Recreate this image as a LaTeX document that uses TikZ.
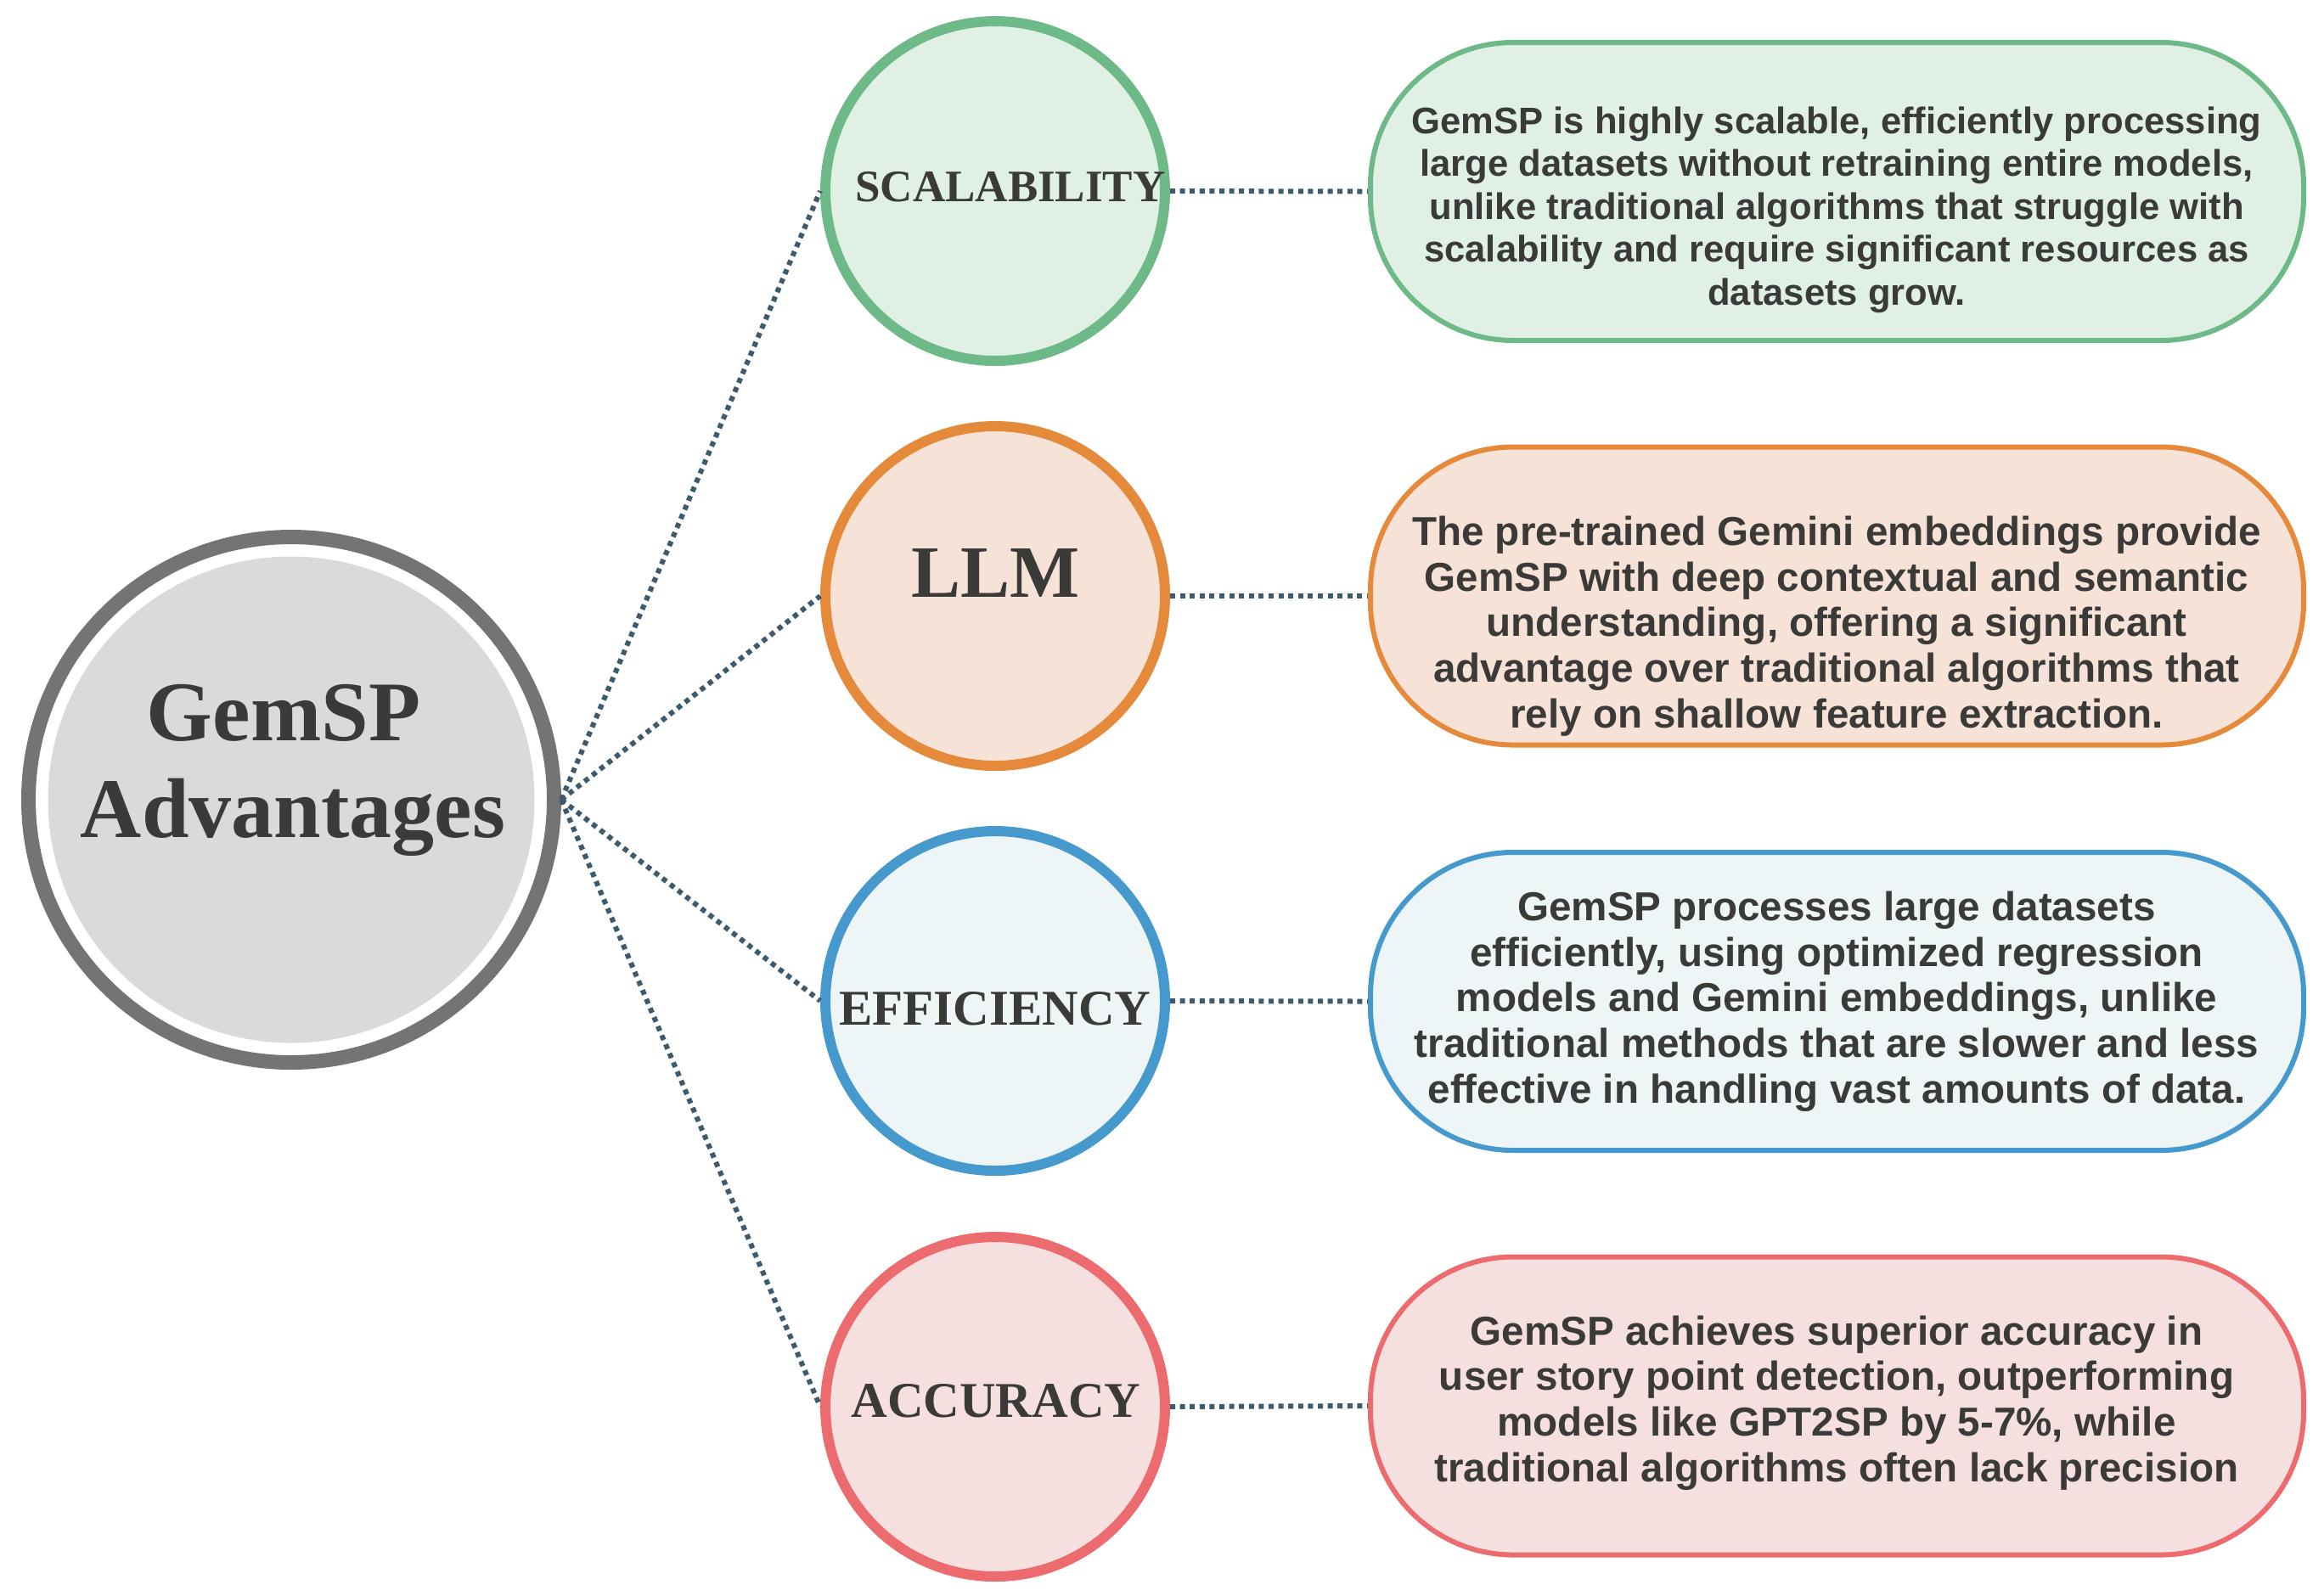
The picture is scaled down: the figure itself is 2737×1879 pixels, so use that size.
\documentclass[tikz,border=0pt]{standalone}
\usepackage{fontspec}
\setmainfont{Liberation Serif}
\newfontfamily\pillfont{Liberation Sans}
\definecolor{ringc}{HTML}{747474}
\definecolor{hubfill}{HTML}{D9DADC}
\definecolor{txtc}{HTML}{3A3A38}
\definecolor{connc}{HTML}{3E5B6E}
\definecolor{gline}{HTML}{6DBA88}
\definecolor{gfill}{HTML}{E0F0E4}
\definecolor{oline}{HTML}{E58A3B}
\definecolor{ofill}{HTML}{F7E2D8}
\definecolor{bline}{HTML}{4599CD}
\definecolor{bfill}{HTML}{EDF5F7}
\definecolor{rline}{HTML}{EC6B6E}
\definecolor{rfill}{HTML}{F6DFDF}
\begin{document}
\begin{tikzpicture}[x=0.25pt,y=-0.25pt,
  conn/.style={draw=connc, line width=1.5pt, dash pattern=on 1.5pt off 1.4pt},
  smallcirc/.style={circle, line width=3pt, minimum size=100pt, inner sep=0pt},
  pill/.style={rectangle, rounded corners=42pt, line width=1.5pt, minimum width=274.75pt, minimum height=87.75pt, inner sep=0pt},
  lbl/.style={text=txtc, inner sep=0pt, anchor=base},
  bodyA/.style={text=txtc, inner sep=0pt, anchor=base, align=center, font=\pillfont\bfseries\fontsize{10.9pt}{12.6pt}\selectfont},
  bodyB/.style={text=txtc, inner sep=0pt, anchor=base, align=center, font=\pillfont\bfseries\fontsize{11.9pt}{13.4pt}\selectfont}
]
\useasboundingbox (0,0) rectangle (2737,1879);
% hub
\node[circle, draw=ringc, line width=4.25pt, minimum size=154.75pt, inner sep=0pt] (hubring) at (343,942) {};
\node[circle, fill=hubfill, minimum size=143.25pt, inner sep=0pt] (hub) at (343,942) {};
\node[lbl, font=\bfseries\fontsize{25pt}{30pt}\selectfont] (t1) at (334,872) {GemSP};
\node[lbl, font=\bfseries\fontsize{25pt}{30pt}\selectfont] (t2) at (345,986) {Advantages};
% small circles
\node[smallcirc, draw=gline, fill=gfill] (c1) at (1172,225) {};
\node[smallcirc, draw=oline, fill=ofill] (c2) at (1172,702) {};
\node[smallcirc, draw=bline, fill=bfill] (c3) at (1172,1179) {};
\node[smallcirc, draw=rline, fill=rfill] (c4) at (1172,1657) {};
\node[lbl, font=\bfseries\fontsize{13.25pt}{16pt}\selectfont] (l1) at (1190,237) {SCALABILITY};
\node[lbl, font=\bfseries\fontsize{21.75pt}{26pt}\selectfont] (l2) at (1173,703) {LLM};
\node[lbl, font=\bfseries\fontsize{14.75pt}{18pt}\selectfont] (l3) at (1172,1207) {EFFICIENCY};
\node[lbl, font=\bfseries\fontsize{14.75pt}{18pt}\selectfont] (l4) at (1173,1669) {ACCURACY};
% pills
\node[pill, draw=gline, fill=gfill] (p1) at (2163.5,225.5) {};
\node[pill, draw=oline, fill=ofill] (p2) at (2163.5,702) {};
\node[pill, draw=bline, fill=bfill] (p3) at (2163.5,1179.5) {};
\node[pill, draw=rline, fill=rfill] (p4) at (2163.5,1656) {};
\node[bodyA] (b1) at (2163,359) {GemSP is highly scalable, efficiently processing\\ large datasets without retraining entire models,\\ unlike traditional algorithms that struggle with\\ scalability and require significant resources as\\ datasets grow.};
\node[bodyB] (b2) at (2163,857) {The pre-trained Gemini embeddings provide\\ GemSP with deep contextual and semantic\\ understanding, offering a significant\\ advantage over traditional algorithms that\\ rely on shallow feature extraction.};
\node[bodyB] (b3) at (2163,1299) {GemSP processes large datasets\\ efficiently, using optimized regression\\ models and Gemini embeddings, unlike\\ traditional methods that are slower and less\\ effective in handling vast amounts of data.};
\node[bodyB] (b4) at (2163,1745) {GemSP achieves superior accuracy in\\ user story point detection, outperforming\\ models like GPT2SP by 5-7\%, while\\ traditional algorithms often lack precision};
% connectors
\draw[conn] (hubring.east) -- (c1.west);
\draw[conn] (hubring.east) -- (c2.west);
\draw[conn] (hubring.east) -- (c3.west);
\draw[conn] (hubring.east) -- (c4.west);
\draw[conn] (c1.east) -- (p1.west);
\draw[conn] (c2.east) -- (p2.west);
\draw[conn] (c3.east) -- (p3.west);
\draw[conn] (c4.east) -- (p4.west);
\end{tikzpicture}
\end{document}
